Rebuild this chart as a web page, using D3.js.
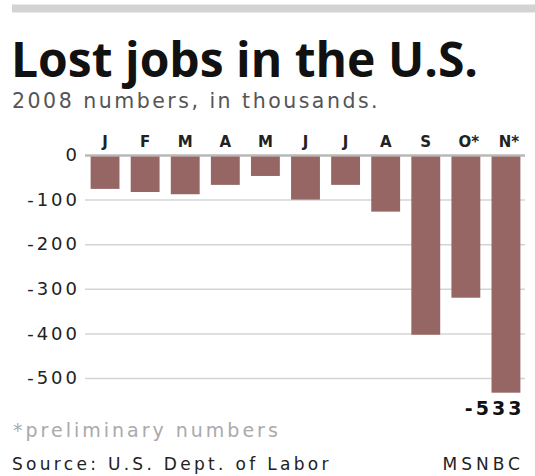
<!DOCTYPE html>
<html>
<head>
<meta charset="utf-8">
<script src="https://cdn.jsdelivr.net/npm/d3@7"></script>
<style>
  html, body { margin: 0; padding: 0; background: #fff; }
  svg { display: block; }
</style>
</head>
<body>
<script>
// Monthly job losses, 2008 (thousands)
const months = ["J", "F", "M", "A", "M", "J", "J", "A", "S", "O*", "N*"];
const jobChange = [-76, -83, -88, -67, -47, -100, -67, -127, -403, -320, -533];
const tickValues = [0, -100, -200, -300, -400, -500];
const labelledIndex = [10];

const W = 535, H = 476;
const fmt = d => d3.format("d")(d).replace("\u2212", "-");

const svg = d3.select("body").append("svg")
  .attr("width", W).attr("height", H);

// top rule
svg.append("rect").attr("x", 12).attr("y", 4.5).attr("width", W - 12).attr("height", 8)
  .attr("fill", "#d3d3d3");

// title and subtitle
svg.append("text").attr("x", 11).attr("y", 77)
  .attr("font-family", "Open Sans").attr("font-weight", 700)
  .attr("font-size", 48).attr("fill", "#111")
  .text("Lost jobs in the U.S.");
svg.append("text").attr("x", 12).attr("y", 108)
  .attr("font-family", "DejaVu Sans").attr("font-size", 20.5).attr("fill", "#555")
  .attr("letter-spacing", 2.5)
  .text("2008 numbers, in thousands.");

const x = d3.scaleBand()
  .domain(d3.range(months.length))
  .range([85, 526])
  .paddingInner(0.28)
  .paddingOuter(0.14);

const y = d3.scaleLinear().domain([0, -533]).range([155, 392.7]);

// gridlines and tick labels
const yAxis = d3.axisLeft(y).tickValues(tickValues).tickSize(-(525 - 85)).tickFormat(fmt);
const gy = svg.append("g").attr("transform", "translate(85,0)").call(yAxis);
gy.select(".domain").remove();
gy.selectAll(".tick line")
  .attr("stroke", d => d === 0 ? "#b8b8b8" : "#d4d4d4")
  .attr("stroke-width", d => d === 0 ? 2.5 : 1.5);
gy.selectAll(".tick text")
  .attr("font-family", "DejaVu Sans").attr("font-size", 18).attr("fill", "#222")
  .attr("letter-spacing", 3)
  .attr("x", -5);

// bars
svg.append("g").selectAll("rect").data(jobChange).join("rect")
  .attr("x", (d, i) => x(i))
  .attr("y", y(0) + 1.5)
  .attr("width", x.bandwidth())
  .attr("height", d => y(d) - y(0) - 1.5)
  .attr("fill", "#966664");

// month labels
svg.append("g").selectAll("text").data(months).join("text")
  .attr("x", (d, i) => x(i) + x.bandwidth() / 2 + (d.length > 1 ? 3 : 0))
  .attr("y", 147)
  .attr("text-anchor", "middle")
  .attr("font-family", "DejaVu Sans").attr("font-weight", 700)
  .attr("font-size", 15).attr("fill", "#222")
  .text(d => d);

// value label
svg.append("g").selectAll("text").data(labelledIndex).join("text")
  .attr("x", i => x(i) + x.bandwidth() + 4)
  .attr("y", 415)
  .attr("text-anchor", "end")
  .attr("font-family", "DejaVu Sans").attr("font-weight", 700)
  .attr("font-size", 19).attr("fill", "#111")
  .attr("letter-spacing", 3)
  .text(i => fmt(jobChange[i]));

// footnotes
svg.append("text").attr("x", 13).attr("y", 437)
  .attr("font-family", "DejaVu Sans").attr("font-size", 19).attr("fill", "#aaa")
  .attr("letter-spacing", 3)
  .text("*preliminary numbers");
svg.append("text").attr("x", 12).attr("y", 470)
  .attr("font-family", "DejaVu Sans").attr("font-size", 17).attr("fill", "#222")
  .attr("letter-spacing", 3.3)
  .text("Source: U.S. Dept. of Labor");
svg.append("text").attr("x", 524).attr("y", 470).attr("text-anchor", "end")
  .attr("font-family", "DejaVu Sans").attr("font-size", 17).attr("fill", "#222")
  .attr("letter-spacing", 4)
  .text("MSNBC");
</script>
</body>
</html>
